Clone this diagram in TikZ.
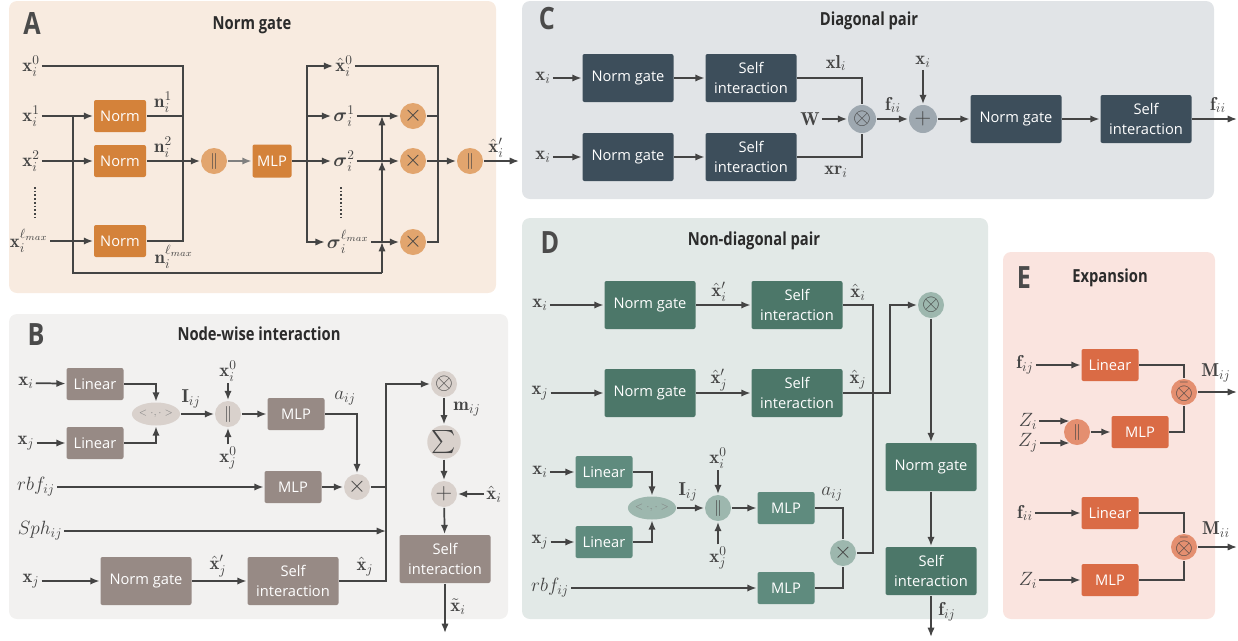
\documentclass[tikz,border=0pt]{standalone}
\usepackage{amsmath}
\usepackage{fontspec}
\usepackage{tikz}
\usetikzlibrary{arrows.meta, shapes.geometric}
\newfontfamily\boxfont{Open Sans}
\newfontfamily\titlefont{Open Sans}[FakeStretch=0.82]

\definecolor{linec}{HTML}{444444}
\definecolor{titlec}{HTML}{2B2B2B}
\definecolor{bgA}{HTML}{F8EBE0}
\definecolor{boxA}{HTML}{D4823A}
\definecolor{opA}{HTML}{E2A56E}
\definecolor{bgB}{HTML}{F2F1F0}
\definecolor{boxB}{HTML}{978A85}
\definecolor{opB}{HTML}{D9D1CC}
\definecolor{bgC}{HTML}{E1E4E7}
\definecolor{boxC}{HTML}{3D4E5B}
\definecolor{opC}{HTML}{9EA8B0}
\definecolor{bgD}{HTML}{E2E9E7}
\definecolor{boxD}{HTML}{4C7769}
\definecolor{boxDl}{HTML}{5F8B7E}
\definecolor{opD}{HTML}{9DB7AE}
\definecolor{bgE}{HTML}{FAE4DF}
\definecolor{boxE}{HTML}{DA6B45}
\definecolor{opE}{HTML}{E48F70}

\begin{document}
\begin{tikzpicture}[x=.75pt, y=-.75pt, line width=1.3pt, color=linec,
    >={Latex[length=7pt, width=5.5pt]},
    blk/.style={rectangle, rounded corners=1.5pt, inner sep=0pt, text=white, align=center, font=\fontsize{11}{15}\selectfont\boxfont},
    wide/.style={blk, minimum width=68.25pt, minimum height=36pt},
    small/.style={blk, minimum width=42.75pt, minimum height=24pt},
    opc/.style={circle, inner sep=0pt, minimum size=19.5pt, font=\fontsize{16}{16}\selectfont},
    catc/.style={opc, font=\fontsize{13}{13}\selectfont},
    inprod/.style={ellipse, inner sep=0pt, minimum width=26.25pt, minimum height=17.25pt, font=\scriptsize, text=gray},
    lbl/.style={inner sep=1pt, font=\fontsize{14}{16}\selectfont},
    panel/.style={rounded corners=6pt},
    letter/.style={font=\fontsize{23}{23}\selectfont\titlefont\bfseries, text=titlec!85},
    ttl/.style={font=\fontsize{13.5}{14}\selectfont\titlefont\bfseries, text=titlec},
    vdots/.style={dash pattern=on 1.2pt off 1.6pt, line width=1.5pt}]
    \useasboundingbox (0,0) rectangle (1238,640);

    % A: Norm gate.
    \fill[bgA, panel] (9,1) rectangle (496,293);
    \node[letter] at (32,24) {A};
    \node[ttl] at (252,25) {Norm gate};
    \node[lbl] (xa0) at (31,66) {$\mathbf{x}_i^0$};
    \node[lbl] (xa1) at (31,116) {$\mathbf{x}_i^1$};
    \node[lbl] (xa2) at (31,161) {$\mathbf{x}_i^2$};
    \node[lbl] (xal) at (29,241) {$\mathbf{x}_i^{\ell_{max}}$};
    \draw[vdots] (35,187) -- (35,220);
    \foreach \n/\y in {1/116, 2/161, l/241}
    {
        \node[small, fill=boxA, minimum width=39pt] (na\n) at (120,\y) {Norm};
        \draw[->] (xa\n) -- (na\n);
    }
    \node[lbl] at (163,102) {$\mathbf{n}_i^1$};
    \node[lbl] at (163,147) {$\mathbf{n}_i^2$};
    \node[lbl] at (174,257) {$\mathbf{n}_i^{\ell_{max}}$};
    \node[catc, fill=opA] (ca1) at (214,161) {$\|$};
    \coordinate (ja) at (183,161);
    \draw (xa0) -| (ja);
    \draw (na1) -| (ja);
    \draw (nal) -| (ja);
    \draw[->] (na2) -- (ca1);
    \node[small, fill=boxA, minimum width=29.25pt, minimum height=24.75pt] (mlpa) at (272,161) {MLP};
    \draw[->, gray] (ca1) -- (mlpa);
    \node[lbl] (sa0) at (344,66) {$\hat{\mathbf{x}}_i^0$};
    \node[lbl] (sa1) at (344,116) {$\boldsymbol{\sigma}_i^1$};
    \node[lbl] (sa2) at (344,161) {$\boldsymbol{\sigma}_i^2$};
    \node[lbl] (sal) at (348,242) {$\boldsymbol{\sigma}_i^{\ell_{max}}$};
    \draw[vdots] (341,187) -- (341,220);
    \coordinate (ba) at (307,161);
    \draw (mlpa) -- (ba);
    \draw[->] (ba) |- (sa0);
    \draw[->] (ba) |- (sa1);
    \draw[->] (ba) -- (sa2);
    \draw[->] (ba) |- (sal);
    \foreach \n/\y in {1/116, 2/161, l/242}
    {
        \node[opc, fill=opA] (ma\n) at (413,\y) {$\times$};
        \draw[->] (sa\n) -- (ma\n);
    }
    % Umweg von x_i^1.
    \coordinate (ub) at (382,273);
    \draw (73,116) |- (ub);
    \draw[->] (ub) -- (ub |- mal);
    \draw[->] (ub |- mal) -- (ub |- ma2);
    \draw[->] (ub |- ma2) -- (ub |- ma1);
    \node[catc, fill=opA] (ca2) at (470,161) {$\|$};
    \coordinate (jb) at (438,161);
    \draw (sa0) -| (jb);
    \draw (ma1) -| (jb);
    \draw (mal) -| (jb);
    \draw[->] (ma2) -- (ca2);
    \coordinate (oa) at (519,161);
    \draw[->] (ca2) -- (oa);
    \node[lbl] at (496,148) {$\hat{\mathbf{x}}_i'$};

    % B: Node-wise interaction.
    \fill[bgB, panel] (9,314) rectangle (508,619);
    \node[letter] at (36,335) {B};
    \node[ttl] at (259,334) {Node-wise interaction};
    \node[lbl] (xb1) at (26,383) {$\mathbf{x}_i$};
    \node[lbl] (xb2) at (26,443) {$\mathbf{x}_j$};
    \node[small, fill=boxB] (lb1) at (95,384) {Linear};
    \node[small, fill=boxB] (lb2) at (95,443) {Linear};
    \draw[->] (xb1) -- (lb1);
    \draw[->] (xb2) -- (lb2);
    \node[inprod, fill=opB] (ipb) at (156,414) {$<\cdot,\cdot>$};
    \draw[->] (lb1) -| (ipb);
    \draw[->] (lb2) -| (ipb);
    \node[catc, fill=opB] (cb) at (228,414) {$\|$};
    \draw[->] (ipb) -- (cb);
    \node[lbl] at (191,399) {$\mathbf{I}_{ij}$};
    \node[lbl] (xb0) at (228,371) {$\mathbf{x}_i^0$};
    \node[lbl] (xbj0) at (228,458) {$\mathbf{x}_j^0$};
    \draw[->] (xb0) -- (cb);
    \draw[->] (xbj0) -- (cb);
    \node[small, fill=boxB] (mlpb1) at (296,414) {MLP};
    \draw[->] (cb) -- (mlpb1);
    \node[lbl] at (345,398) {$a_{ij}$};
    \node[opc, fill=opB] (tb) at (357,487) {$\times$};
    \draw[->] (mlpb1) -| (tb);
    \node[lbl] (rbfb) at (36,487) {$rbf_{ij}$};
    \node[small, fill=boxB] (mlpb2) at (293,487) {MLP};
    \draw[->] (rbfb) -- (mlpb2);
    \draw[->] (mlpb2) -- (tb);
    \coordinate (bus) at (386,487);
    \draw (tb) -- (bus);
    \node[lbl] (sphb) at (40,531) {$Sph_{ij}$};
    \draw[->] (sphb) -- (sphb -| bus);
    \node[lbl] (xb3) at (31,581) {$\mathbf{x}_j$};
    \node[wide, fill=boxB] (ngb) at (146,581) {Norm gate};
    \node[wide, fill=boxB] (sib1) at (293,581) {Self\\interaction};
    \draw[->] (xb3) -- (ngb);
    \draw[->] (ngb) -- (sib1);
    \node[lbl] at (218,566) {$\hat{\mathbf{x}}_j'$};
    \node[lbl] at (365,567) {$\hat{\mathbf{x}}_j$};
    \node[opc, fill=opB] (otb) at (444,384) {$\otimes$};
    \coordinate (bust) at (386,384);
    \draw[->] (sib1) -| (bust) -- (otb);
    \node[opc, fill=opB] (sumb) at (444,442) {$\textstyle\sum$};
    \node[opc, fill=opB] (plb) at (444,494) {$+$};
    \node[wide, fill=boxB] (sib2) at (445,559) {Self\\interaction};
    \draw[->] (otb) -- (sumb);
    \draw[->] (sumb) -- (plb);
    \draw[->] (plb) -- (sib2);
    \node[lbl] at (467,409) {$\mathbf{m}_{ij}$};
    \node[lbl] (xhb) at (494,494) {$\hat{\mathbf{x}}_i$};
    \draw[->] (xhb) -- (plb);
    \coordinate (ob) at (445,633);
    \draw[->] (sib2) -- (ob);
    \node[lbl] at (458,607) {$\tilde{\mathbf{x}}_i$};

    % C: Diagonal pair.
    \fill[bgC, panel] (522,1) rectangle (1214,199);
    \node[letter] at (547,19) {C};
    \node[ttl] at (869,21) {Diagonal pair};
    \foreach \n/\y in {1/78, 2/157}
    {
        \node[lbl] (xc\n) at (543,\y) {$\mathbf{x}_i$};
        \node[wide, fill=boxC] (ngc\n) at (628,\y) {Norm gate};
        \node[wide, fill=boxC] (sic\n) at (751,\y) {Self\\interaction};
        \draw[->] (xc\n) -- (ngc\n);
        \draw[->] (ngc\n) -- (sic\n);
    }
    \node[opc, fill=opC, minimum size=21pt] (otc) at (862,119) {$\otimes$};
    \draw (sic1) -| (otc);
    \draw (sic2) -| (otc);
    \node[lbl] at (836,63) {$\mathbf{xl}_i$};
    \node[lbl] at (836,172) {$\mathbf{xr}_i$};
    \node[lbl] (wc) at (810,119) {$\mathbf{W}$};
    \draw[->] (wc) -- (otc);
    \node[opc, fill=opC, minimum size=21pt] (plc) at (923,119) {$+$};
    \draw[->] (otc) -- (plc);
    \node[lbl] at (893,105) {$\mathbf{f}_{ii}$};
    \node[lbl] (xc3) at (923,62) {$\mathbf{x}_i$};
    \draw[->] (xc3) -- (plc);
    \node[wide, fill=boxC] (ngc3) at (1016,119) {Norm gate};
    \node[wide, fill=boxC] (sic3) at (1146,119) {Self\\interaction};
    \draw[->] (plc) -- (ngc3);
    \draw[->] (ngc3) -- (sic3);
    \coordinate (oc) at (1237,119);
    \draw[->] (sic3) -- (oc);
    \node[lbl] at (1218,105) {$\mathbf{f}_{ii}$};

    % D: Non-diagonal pair.
    \fill[bgD, panel] (522,218) rectangle (988,619);
    \node[letter] at (550,243) {D};
    \node[ttl] at (754,241) {Non-diagonal pair};
    \foreach \n/\s/\y in {1/i/305, 2/j/393}
    {
        \node[lbl] (xd\n) at (540,\y) {$\mathbf{x}_\s$};
        \node[wide, fill=boxD] (ngd\n) at (650,\y) {Norm gate};
        \node[wide, fill=boxD] (sid\n) at (797,\y) {Self\\interaction};
        \draw[->] (xd\n) -- (ngd\n);
        \draw[->] (ngd\n) -- (sid\n);
        \node[lbl] at (719,\y-13) {$\hat{\mathbf{x}}_\s'$};
        \node[lbl] at (858,\y-13) {$\hat{\mathbf{x}}_\s$};
    }
    \node[opc, fill=opD] (otd) at (931,305) {$\otimes$};
    \coordinate (dj) at (890,305);
    \draw[->] (sid2) -| (dj) -- (otd);
    \node[wide, fill=boxD] (ngd3) at (931,467) {Norm gate};
    \node[wide, fill=boxD] (sid3) at (931,571) {Self\\interaction};
    \draw[->] (otd) -- (ngd3);
    \draw[->] (ngd3) -- (sid3);
    \coordinate (od) at (931,637);
    \draw[->] (sid3) -- (od);
    \node[lbl] at (947,612) {$\mathbf{f}_{ij}$};
    \node[lbl] (xd3) at (540,472) {$\mathbf{x}_i$};
    \node[lbl] (xd4) at (540,542) {$\mathbf{x}_j$};
    \node[small, fill=boxDl] (ld1) at (604,472) {Linear};
    \node[small, fill=boxDl] (ld2) at (604,542) {Linear};
    \draw[->] (xd3) -- (ld1);
    \draw[->] (xd4) -- (ld2);
    \node[inprod, fill=opD] (ipd) at (652,508) {$<\cdot,\cdot>$};
    \draw[->] (ld1) -| (ipd);
    \draw[->] (ld2) -| (ipd);
    \node[catc, fill=opD] (cd) at (718,508) {$\|$};
    \draw[->] (ipd) -- (cd);
    \node[lbl] at (688,492) {$\mathbf{I}_{ij}$};
    \node[lbl] (xd0) at (718,458) {$\mathbf{x}_i^0$};
    \node[lbl] (xdj0) at (718,558) {$\mathbf{x}_j^0$};
    \draw[->] (xd0) -- (cd);
    \draw[->] (xdj0) -- (cd);
    \node[small, fill=boxDl] (mlpd1) at (786,508) {MLP};
    \draw[->] (cd) -- (mlpd1);
    \node[lbl] at (832,494) {$a_{ij}$};
    \node[opc, fill=opD] (td) at (843,553) {$\times$};
    \draw (mlpd1) -| (td);
    \node[lbl] (rbfd) at (550,588) {$rbf_{ij}$};
    \node[small, fill=boxDl] (mlpd2) at (786,588) {MLP};
    \draw[->] (rbfd) -- (mlpd2);
    \draw (mlpd2) -| (td);
    \coordinate (dk) at (873,553);
    \draw (sid1) -| (dk) -- (td);

    % E: Expansion.
    \fill[bgE, panel] (1003,252) rectangle (1215,619);
    \node[letter] at (1024,278) {E};
    \node[ttl] at (1110,278) {Expansion};
    \node[lbl] (fe1) at (1025,365) {$\mathbf{f}_{ij}$};
    \node[small, fill=boxE] (le1) at (1110,365) {Linear};
    \draw[->] (fe1) -- (le1);
    \node[opc, fill=opE] (obe1) at (1184,392) {$\bar{\otimes}$};
    \draw (le1) -| (obe1);
    \node[lbl] (zi1) at (1028,421) {$Z_i$};
    \node[lbl] (zj1) at (1028,443) {$Z_j$};
    \node[catc, fill=opE] (ce) at (1077,432) {$\|$};
    \draw[->] (zi1) -- (zi1 -| ce.122);
    \draw[->] (zj1) -- (zj1 -| ce.238);
    \node[small, fill=boxE] (mlpe1) at (1140,432) {MLP};
    \draw[->] (ce) -- (mlpe1);
    \draw (mlpe1) -| (obe1);
    \coordinate (oe1) at (1237,392);
    \draw[->] (obe1) -- (oe1);
    \node[lbl] at (1216,373) {$\mathbf{M}_{ij}$};
    \node[lbl] (fe2) at (1025,513) {$\mathbf{f}_{ii}$};
    \node[small, fill=boxE] (le2) at (1110,513) {Linear};
    \draw[->] (fe2) -- (le2);
    \node[opc, fill=opE] (obe2) at (1184,547) {$\bar{\otimes}$};
    \draw (le2) -| (obe2);
    \node[lbl] (zi2) at (1028,580) {$Z_i$};
    \node[small, fill=boxE] (mlpe2) at (1110,580) {MLP};
    \draw[->] (zi2) -- (mlpe2);
    \draw (mlpe2) -| (obe2);
    \coordinate (oe2) at (1237,547);
    \draw[->] (obe2) -- (oe2);
    \node[lbl] at (1216,530) {$\mathbf{M}_{ii}$};
\end{tikzpicture}
\end{document}
